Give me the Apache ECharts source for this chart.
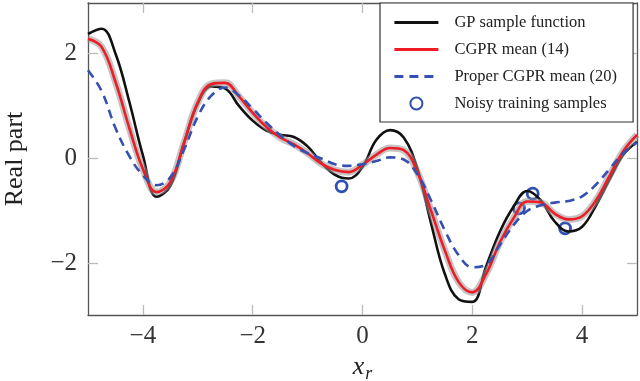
<!DOCTYPE html>
<html>
<head>
<meta charset="utf-8">
<script src="https://cdn.jsdelivr.net/npm/echarts@6/dist/echarts.min.js"></script>
<style>
  html, body { margin: 0; padding: 0; background: #fff; }
  #main { width: 640px; height: 381px; }
</style>
</head>
<body>
<div id="main"></div>
<script>
// x grid shared by the three curves
var xs = [-5, -4.75, -4.5, -4.25, -4, -3.75, -3.5, -3.25, -3, -2.75, -2.5, -2.25, -2, -1.75, -1.5, -1.25, -1, -0.75, -0.5, -0.25,
  0, 0.25, 0.5, 0.75, 1, 1.25, 1.5, 1.75, 2, 2.25, 2.5, 2.75, 3, 3.25, 3.5, 3.75, 4, 4.25, 4.5, 4.75, 5];

var gpSample = [2.37, 2.47, 2.0, 1.09, 0.06, -0.73, -0.52, 0.3, 1.05, 1.37, 1.33, 1.0, 0.72, 0.53, 0.45, 0.41, 0.23, -0.08, -0.31, -0.38,
  -0.16, 0.35, 0.54, 0.4, -0.2, -1.24, -2.2, -2.68, -2.73, -2.06, -1.4, -0.92, -0.62, -0.8, -1.2, -1.39, -1.3, -0.9, -0.4, 0.07, 0.32];

var cgprMean = [2.28, 2.12, 1.46, 0.59, -0.2, -0.64, -0.45, 0.3, 1.07, 1.42, 1.44, 1.18, 0.87, 0.6, 0.4, 0.27, 0.1, -0.1, -0.22, -0.26,
  -0.12, 0.07, 0.2, 0.16, -0.26, -1.0, -1.75, -2.35, -2.55, -2.2, -1.6, -1.14, -0.82, -0.84, -1.05, -1.16, -1.1, -0.8, -0.33, 0.14, 0.45];

var properMean = [1.68, 1.28, 0.58, 0.05, -0.32, -0.51, -0.36, 0.17, 0.8, 1.2, 1.35, 1.2, 0.95, 0.68, 0.44, 0.24, 0.1, 0.0, -0.11, -0.14,
  -0.11, -0.05, 0.02, -0.02, -0.3, -0.8, -1.37, -1.84, -2.07, -2.02, -1.65, -1.27, -1.0, -0.89, -0.84, -0.81, -0.72, -0.5, -0.2, 0.1, 0.3];

// noisy training samples
var sampleX = [-0.38, 2.85, 3.1, 3.69];
var sampleY = [-0.53, -0.95, -0.67, -1.33];

var xTicks = [-4, -2, 0, 2, 4];
var yTicks = [-2, 0, 2];

function pairs(x, y) {
  return x.map(function (v, i) { return [v, y[i]]; });
}
function minus(v) {
  return v < 0 ? '\u2212' + (-v) : String(v);
}

var serif = '"Liberation Serif", "DejaVu Serif", serif';
var frame = { show: true, onZero: false, lineStyle: { color: '#555', width: 1.3 } };
var ticks = function (vals) {
  return { show: true, inside: true, length: 10, customValues: vals, lineStyle: { color: '#bbb', width: 1.3 } };
};
var noDot = { opacity: 0 };

echarts.init(document.getElementById('main')).setOption({
  animation: false,
  grid: { left: 88, right: 3, top: 3, bottom: 66, outerBoundsMode: 'none', containLabel: false },
  legend: {
    data: [
      { name: 'GP sample function', itemStyle: noDot },
      { name: 'CGPR mean (14)', itemStyle: noDot },
      { name: 'Proper CGPR mean (20)', itemStyle: noDot },
      { name: 'Noisy training samples', itemStyle: { opacity: 1 } }
    ],
    orient: 'vertical',
    left: 380,
    top: 3,
    padding: [11, 16, 10, 13],
    itemWidth: 44,
    itemHeight: 12,
    itemGap: 10,
    backgroundColor: '#fff',
    borderColor: '#333',
    borderWidth: 1.2,
    lineStyle: { width: 2.8 },
    textStyle: { fontFamily: serif, fontSize: 16.5, color: '#222', padding: [0, 0, 0, 11] }
  },
  xAxis: [{
    type: 'value', min: -5, max: 5, position: 'bottom',
    axisLine: frame, axisTick: ticks(xTicks), splitLine: { show: false },
    axisLabel: { customValues: xTicks, formatter: minus, fontFamily: serif, fontSize: 25, color: '#333', margin: 9 },
    name: '{x|x}{r|r}', nameLocation: 'middle', nameGap: 36,
    nameTextStyle: {
      rich: {
        x: { fontFamily: serif, fontStyle: 'italic', fontSize: 26, color: '#222' },
        r: { fontFamily: serif, fontStyle: 'italic', fontSize: 18, color: '#222', padding: [14, 0, 0, 1] }
      }
    }
  }, {
    type: 'value', min: -5, max: 5, position: 'top',
    axisLine: frame, axisTick: ticks(xTicks), axisLabel: { show: false }, splitLine: { show: false }
  }],
  yAxis: [{
    type: 'value', min: -2.98, max: 2.96, position: 'left',
    axisLine: frame, axisTick: ticks(yTicks), splitLine: { show: false },
    axisLabel: { customValues: yTicks, formatter: minus, fontFamily: serif, fontSize: 25, color: '#333', margin: 11 },
    name: 'Real part', nameLocation: 'middle', nameGap: 60, nameRotate: 90,
    nameTextStyle: { fontFamily: serif, fontSize: 26, color: '#222' }
  }, {
    type: 'value', min: -2.98, max: 2.96, position: 'right',
    axisLine: frame, axisTick: ticks(yTicks), axisLabel: { show: false }, splitLine: { show: false }
  }],
  series: [
    {
      name: 'GP sample function', type: 'line', smooth: 0.4, symbol: 'none',
      data: pairs(xs, gpSample),
      lineStyle: { color: '#111', width: 2.6 }, itemStyle: { color: '#111' }
    },
    {
      name: 'band', type: 'line', smooth: 0.4, symbol: 'none', silent: true,
      data: pairs(xs, cgprMean),
      lineStyle: { color: 'rgba(150,150,150,0.55)', width: 7 }
    },
    {
      name: 'CGPR mean (14)', type: 'line', smooth: 0.4, symbol: 'none',
      data: pairs(xs, cgprMean),
      lineStyle: { color: '#ee1c25', width: 2.6 }, itemStyle: { color: '#ee1c25' }
    },
    {
      name: 'Proper CGPR mean (20)', type: 'line', smooth: 0.4, symbol: 'none',
      data: pairs(xs, properMean),
      lineStyle: { color: '#3450b0', width: 2.6, type: [9, 6] }, itemStyle: { color: '#3450b0' }
    },
    {
      name: 'Noisy training samples', type: 'scatter', symbol: 'circle', symbolSize: 11,
      data: pairs(sampleX, sampleY),
      itemStyle: { color: 'rgba(255,255,255,0)', borderColor: '#2f4fb3', borderWidth: 2.8, opacity: 1 }
    }
  ]
});
</script>
</body>
</html>
